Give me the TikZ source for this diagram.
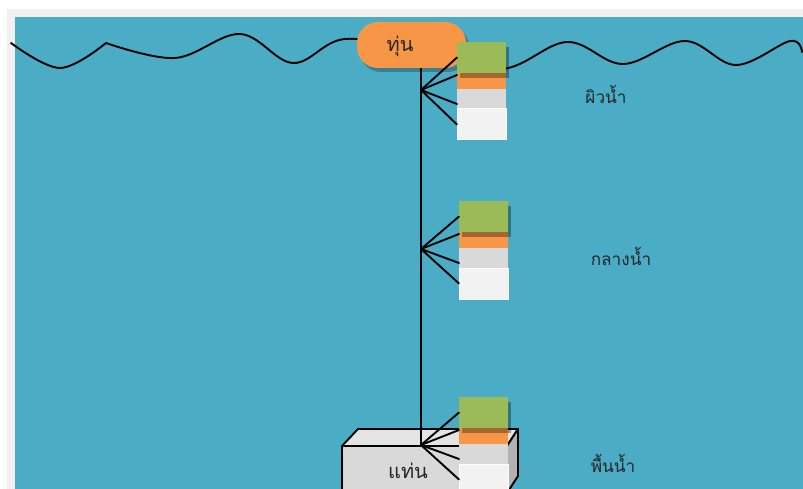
\documentclass[tikz,border=0pt]{standalone}
\usepackage{fontspec}
\newfontfamily\thaifont[Script=Thai]{Loma}
\definecolor{sea}{HTML}{4BACC6}
\definecolor{frame}{HTML}{F0F0F0}
\definecolor{buoyc}{HTML}{F79646}
\definecolor{sgreen}{HTML}{9BBB59}
\definecolor{sgrey}{HTML}{D9D9D9}
\definecolor{swhite}{HTML}{F2F2F2}
\definecolor{basefront}{HTML}{D9D9D9}
\definecolor{basetop}{HTML}{E4E4E4}
\definecolor{baseside}{HTML}{B2B2B2}
\tikzset{
  wave/.style={line width=1.9pt, line cap=round, line join=round},
  rod/.style={line width=2pt},
  fanline/.style={line width=1.9pt, line cap=round},
  part/.style={anchor=north west, inner sep=0pt, outer sep=0pt, minimum width=49pt},
  greenpart/.style={part, fill=sgreen, minimum height=31pt},
  orangepart/.style={part, fill=buoyc, minimum height=16pt},
  greypart/.style={part, fill=sgrey, minimum height=20pt},
  whitepart/.style={part, fill=swhite, draw=white, line width=1pt, minimum height=31pt},
  label/.style={font=\thaifont\fontsize{20}{24}\selectfont, text=black!85},
  depth/.style={font=\thaifont\fontsize{17.2}{21}\selectfont, text=black!85},
  basebox/.style={draw=black, line width=1.9pt, line join=round},
}
% one sensor stack: #1 name, #2 left x, #3 top y
\newcommand\sensorstack[3]{%
  \node[orangepart] (#1o) at (#2,#3+31) {};
  \node[greypart]   (#1r) at (#2,#3+47) {};
  \node[whitepart]  (#1w) at (#2,#3+67) {};
  \fill[black, opacity=.32] (#2+3,#3+5) rectangle ++(49,31);
  \node[greenpart]  (#1g) at (#2,#3) {};
}
% fan of cables from the rod to a stack: #1 name, #2 top y
\newcommand\sensorfan[2]{%
  \coordinate (#1j) at (421,#2+48);
  \draw[fanline] (#1j) -- (#1g.west);
  \draw[fanline] (#1j) -- ([yshift=6pt]#1o.west);
  \draw[fanline] (#1j) -- ([yshift=-5pt]#1r.west);
  \draw[fanline] (#1j) -- (#1w.west);
}
\begin{document}
\begin{tikzpicture}[x=1pt,y=-1pt]
  \useasboundingbox (0,0) rectangle (803,489);
  \begin{scope}
  \clip (0,0) rectangle (803,489);
  % page and sea
  \fill[white] (0,0) rectangle (803,489);
  \fill[frame] (7,9) rectangle (803,489);
  \fill[sea] (15,17) rectangle (803,489);

  % water surface
  \draw[wave] plot[smooth, tension=0.6] coordinates {(11,43) (60,68) (106,43)};
  \draw[wave] plot[smooth, tension=0.6] coordinates {(106,43) (175,58) (240,34) (293,63) (345,39)
      (425,52) (502,69) (567,42) (623,64) (685,41) (736,65) (790,41) (802,52)};

  % buoy
  \fill[black, opacity=.25, rounded corners=21pt] (360,26) rectangle (469,72);
  \node[fill=buoyc, rounded corners=21pt, minimum width=109pt, minimum height=46pt,
        inner sep=0pt] (buoy) at (411.5,45) {};
  \node[label] (buoytext) at (400,46) {ทุ่น};

  % anchor block on the bottom
  \filldraw[basebox, fill=basetop] (342,446) -- (358,429) -- (518,429) -- (507,446) -- cycle;
  \filldraw[basebox, fill=baseside] (507,446) -- (518,429) -- (518,476) -- (507,493) -- cycle;
  \filldraw[basebox, fill=basefront] (342,446) rectangle (507,495);
  \node[label] (basetext) at (408,471) {แท่น};

  % sensor stacks
  \sensorstack{s1}{457}{42}
  \sensorstack{s2}{459}{201}
  \sensorstack{s3}{459}{397}

  % rod and cables
  \sensorfan{s1}{42}
  \sensorfan{s2}{201}
  \sensorfan{s3}{397}
  \draw[rod] (buoy.south -| s1j) -- (s3j);

  % depth labels
  \node[depth] (surface) at (606,94) {ผิวน้ำ};
  \node[depth] (middle) at (621,256) {กลางน้ำ};
  \node[depth] (bottom) at (613,463) {พื้นน้ำ};
  \end{scope}
\end{tikzpicture}
\end{document}
